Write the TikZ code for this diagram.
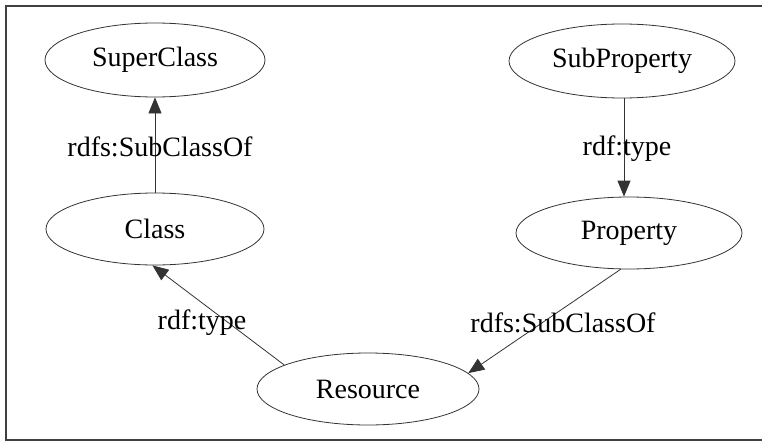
\documentclass[tikz,border=0pt]{standalone}
\usepackage{fontspec}
\setmainfont{Liberation Serif}
\usetikzlibrary{shapes.geometric,arrows.meta}

\tikzset{
  cls/.style={ellipse, draw=black!80, line width=0.8pt, inner sep=0pt,
              font=\fontsize{28}{30}\selectfont},
  rel/.style={draw=black!80, line width=0.8pt,
              -{Triangle[length=16pt,width=13pt]}},
  lbl/.style={font=\fontsize{28}{30}\selectfont, inner sep=0pt},
  frame/.style={draw=black!75, line width=1.2pt}
}

\begin{document}
\begin{tikzpicture}[x=1pt,y=-1pt]
  \useasboundingbox (0,0) rectangle (762,444);
  \begin{scope}
    \clip (0,0) rectangle (762,444);
    \draw[frame] (780,6) -- (6,6) -- (6,440) -- (780,440);
  \end{scope}

  % classes
  \node[cls, minimum width=220pt, minimum height=74pt] (super)  at (155,60)  {SuperClass};
  \node[cls, minimum width=226pt, minimum height=74pt] (subp)   at (622,61)  {SubProperty};
  \node[cls, minimum width=218pt, minimum height=72pt] (class)  at (155,229) {Class};
  \node[cls, minimum width=226pt, minimum height=72pt] (prop)   at (629,233) {Property};
  \node[cls, minimum width=222pt, minimum height=72pt] (res)    at (368,389) {Resource};

  % relations
  \draw[rel] (class) -- (super);
  \draw[rel] (subp.south -| 624,0) -- (prop.north -| 624,0);
  \draw[rel] (res.164) -- (class.266);
  \draw[rel] (prop.257) -- (res.9);

  % relation labels
  \node[lbl] (l1) at (160,147) {rdfs:SubClassOf};
  \node[lbl] (l2) at (627,149) {rdf:type};
  \node[lbl] (l3) at (202,323) {rdf:type};
  \node[lbl] (l4) at (563,323) {rdfs:SubClassOf};
\end{tikzpicture}
\end{document}
